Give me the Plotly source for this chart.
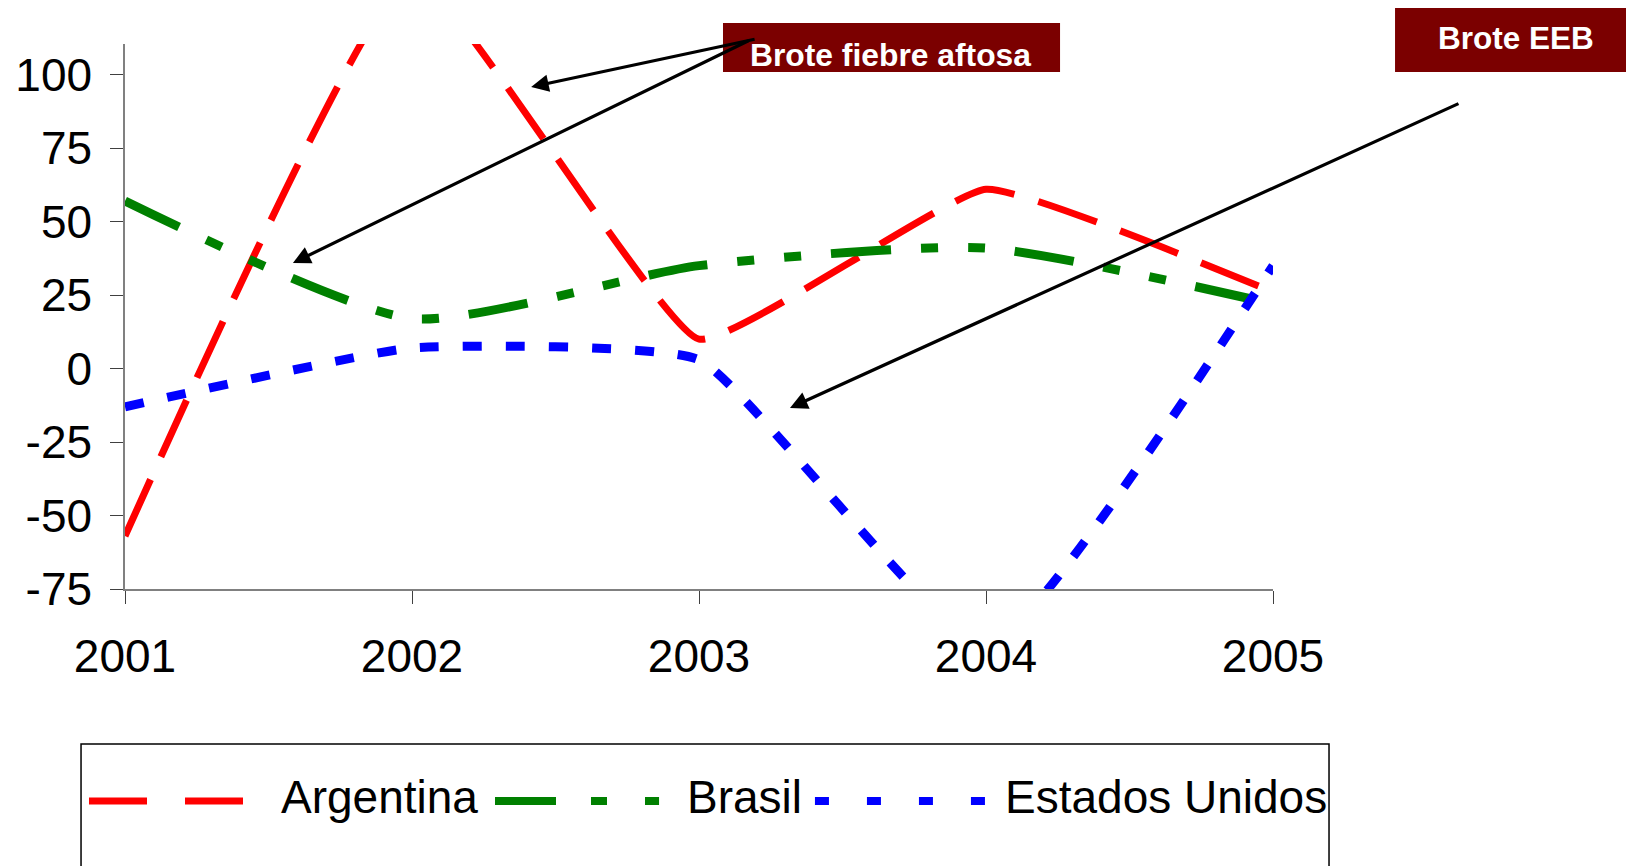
import plotly.graph_objects as go

# ---- data ----
years = [2001, 2002, 2003, 2004, 2005]
argentina = [-57, 134, 10, 61, 26]
brasil = [57, 17, 35, 41, 22]
estados_unidos = [-13, 7, 3, -95, 35]

series_names = ["Argentina", "Brasil", "Estados Unidos"]
series_colors = ["#ff0000", "#008000", "#0000ff"]

ytick_vals = [100, 75, 50, 25, 0, -25, -50, -75]
ytick_text = ["100", "75", "50", "25", "0", "-25", "-50", "-75"]
xtick_vals = [2001, 2002, 2003, 2004, 2005]
xtick_text = ["2001", "2002", "2003", "2004", "2005"]

FONT = "Liberation Sans, Arial, sans-serif"

fig = go.Figure()

fig.add_trace(go.Scatter(
    x=years, y=argentina, name=series_names[0], mode="lines",
    line=dict(color=series_colors[0], width=7, dash="62px,25px", shape="spline", smoothing=0.35),
    showlegend=False))
fig.add_trace(go.Scatter(
    x=years, y=brasil, name=series_names[1], mode="lines",
    line=dict(color=series_colors[1], width=9, dash="60px,30px,17px,30px,17px,30px",
              shape="spline", smoothing=0.6),
    showlegend=False))
fig.add_trace(go.Scatter(
    x=years, y=estados_unidos, name=series_names[2], mode="lines",
    line=dict(color=series_colors[2], width=9, dash="19px,24px", shape="spline", smoothing=0.4),
    showlegend=False))

axis_col = "#808080"
fig.update_xaxes(
    range=[2001, 2005], tickvals=xtick_vals, ticktext=xtick_text,
    showline=True, linecolor=axis_col, linewidth=1.5,
    ticks="outside", ticklen=13, tickcolor="#404040", tickwidth=1,
    showgrid=False, zeroline=False, ticklabelstandoff=13, automargin=False,
    tickfont=dict(family=FONT, size=46, color="#000000"))
fig.update_yaxes(
    range=[-75, 110.4], tickvals=ytick_vals, ticktext=ytick_text,
    showline=True, linecolor=axis_col, linewidth=1.5,
    ticks="outside", ticklen=13, tickcolor="#404040", tickwidth=1,
    showgrid=False, zeroline=False, ticklabelstandoff=9, automargin=False,
    tickfont=dict(family=FONT, size=46, color="#000000"))

shapes = []
annotations = []

# annotation boxes
box_col = "#7b0000"
shapes.append(dict(type="rect", xref="paper", yref="paper", x0=0.5209, x1=0.8145,
                   y0=0.9486, y1=1.0385, fillcolor=box_col, line=dict(width=0), layer="above"))
shapes.append(dict(type="rect", xref="paper", yref="paper", x0=1.1063, x1=1.33,
                   y0=0.9486, y1=1.0679, fillcolor=box_col, line=dict(width=0), layer="above"))
annotations.append(dict(text="<b>Brote fiebre aftosa</b>", xref="paper", yref="paper",
                        x=0.6672, y=0.9800, showarrow=False, xanchor="center", yanchor="middle",
                        font=dict(family=FONT, size=31.8, color="#ffffff")))
annotations.append(dict(text="<b>Brote EEB</b>", xref="paper", yref="paper",
                        x=1.2115, y=1.0110, showarrow=False, xanchor="center", yanchor="middle",
                        font=dict(family=FONT, size=31.5, color="#ffffff")))

# arrows
arrow_specs = [
    (2002.415, 95.8, 225, -48),
    (2001.585, 35.9, 457, -223),
    (2003.317, -13.4, 670, -305),
]
for ax_, ay_v, dx, dy in arrow_specs:
    annotations.append(dict(text="", x=ax_, y=ay_v, xref="x", yref="y",
                            ax=dx, ay=dy, axref="pixel", ayref="pixel",
                            showarrow=True, arrowhead=2, arrowsize=1.1, arrowwidth=3.2,
                            arrowcolor="#000000", standoff=0, startstandoff=0))

# manual legend
shapes.append(dict(type="rect", xref="paper", yref="paper", x0=-0.0383, x1=1.0488,
                   y0=-0.53, y1=-0.2844, line=dict(color="#000000", width=1.5)))
leg_y = -0.389
leg_lines = [
    (-0.03136, 0.10627, series_colors[0], 7, "58px,38px"),
    (0.3223, 0.4652, series_colors[1], 8, "61px,35px,16px,38px,15px,40px"),
    (0.6010, 0.7491, series_colors[2], 8, "14px,38px"),
]
for x0, x1, c, w, d in leg_lines:
    shapes.append(dict(type="line", xref="paper", yref="paper", x0=x0, x1=x1,
                       y0=leg_y, y1=leg_y, line=dict(color=c, width=w, dash=d)))
leg_text_x = [0.1340, 0.4878, 0.7648]
for name, tx in zip(series_names, leg_text_x):
    annotations.append(dict(text=name, xref="paper", yref="paper", x=tx, y=-0.3817,
                            xanchor="left", yanchor="middle", showarrow=False,
                            font=dict(family=FONT, size=46, color="#000000")))

# the page body adds an 8px offset; margins compensate so the plot area sits
# where the reference's does
fig.update_layout(
    width=1634, height=866,
    margin=dict(l=117, r=369, t=36, b=285, autoexpand=False),
    paper_bgcolor="#ffffff", plot_bgcolor="#ffffff",
    shapes=shapes, annotations=annotations,
    showlegend=False,
    font=dict(family=FONT),
)

fig.write_html("out.html")
